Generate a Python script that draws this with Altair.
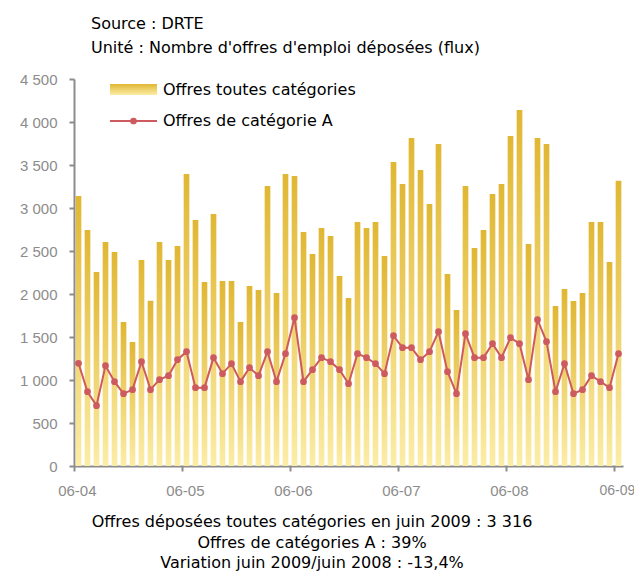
import altair as alt
import pandas as pd

# ---- data ----
mois = []
for y in range(4, 10):
    for m in range(1, 13):
        if (y == 4 and m < 6) or (y == 9 and m > 6):
            continue
        mois.append(f"{m:02d}-{y:02d}")

toutes = [3140, 2744, 2256, 2605, 2488, 1674, 1442, 2395, 1922, 2605,
          2395, 2558, 3395, 2860, 2140, 2930, 2150, 2150, 1674, 2093,
          2047, 3256, 2012, 3395, 3372, 2721, 2465, 2767, 2674, 2209,
          1953, 2837, 2767, 2837, 2442, 3535, 3279, 3814, 3442, 3047,
          3744, 2233, 1814, 3256, 2535, 2744, 3163, 3279, 3837, 4140,
          2581, 3814, 3744, 1860, 2058, 1919, 2012, 2837, 2837, 2372,
          3316]

cat_a = [1194, 864, 702, 1167, 981, 841, 888, 1213, 888, 1004,
         1050, 1236, 1329, 911, 911, 1260, 1074, 1190, 981, 1143,
         1050, 1329, 981, 1306, 1725, 981, 1120, 1260, 1213, 1120,
         957, 1306, 1260, 1190, 1074, 1515, 1376, 1376, 1236, 1329,
         1562, 1097, 841, 1539, 1260, 1260, 1422, 1260, 1492, 1422,
         1004, 1702, 1446, 864, 1190, 841, 888, 1050, 981, 911,
         1306]

tick_labels = ["06-04", "06-05", "06-06", "06-07", "06-08", "06-09"]
y_ticks = [0, 500, 1000, 1500, 2000, 2500, 3000, 3500, 4000, 4500]

header = ["Source : DRTE", "Unité : Nombre d'offres d'emploi déposées (flux)"]
legend_labels = ["Offres toutes catégories", "Offres de catégorie A"]
footer = ["Offres déposées toutes catégories en juin 2009 : 3 316",
          "Offres de catégories A : 39%",
          "Variation juin 2009/juin 2008 : -13,4%"]

df = pd.DataFrame({"mois": mois, "toutes": toutes, "catA": cat_a})

FONT = "Liberation Sans"
TFONT = "DejaVu Sans"
GRAY = "#8c8c8c"
GOLD = "#E0B733"
PALE = "#FCEDA6"
RED = "#CD5A5E"

W, H = 549, 387
step = W / len(mois)
pin = 0.37
pout = pin / 2

xscale = alt.Scale(paddingInner=pin, paddingOuter=pout)
xenc = alt.X("mois:O", sort=None, scale=xscale,
             axis=alt.Axis(values=tick_labels, bandPosition=0,
                           tickOffset=-pout * step, labelAngle=0,
                           title=None, labelFont=FONT,
                           labelFontSize=alt.condition("datum.value === '06-09'",
                                                       alt.value(14), alt.value(15)),
                           labelColor=GRAY, domainColor=GRAY, domainWidth=2,
                           tickColor=GRAY, tickWidth=2, tickSize=5,
                           labelPadding=12))
yenc = alt.Y("toutes:Q", scale=alt.Scale(domain=[0, 4500], nice=False),
             axis=alt.Axis(values=y_ticks, title=None, grid=False,
                           labelExpr="replace(format(datum.value, ','), ',', ' ')",
                           labelFont=FONT, labelFontSize=15, labelColor=GRAY,
                           domainColor=GRAY, domainWidth=2, tickColor=GRAY,
                           tickWidth=2, tickSize=5, labelPadding=12))

grad = alt.Gradient(gradient="linear", x1=0, x2=0, y1=0, y2=1,
                    stops=[alt.GradientStop(color=GOLD, offset=0),
                           alt.GradientStop(color=PALE, offset=1)])

base = alt.Chart(df)
bars = base.mark_bar(color=grad).encode(x=xenc, y=yenc)
line = base.mark_line(color=RED, strokeWidth=2).encode(x=alt.X("mois:O", sort=None), y=alt.Y("catA:Q"))
pts = base.mark_point(color=RED, filled=True, opacity=1, size=45).encode(
    x=alt.X("mois:O", sort=None), y=alt.Y("catA:Q"))

one = pd.DataFrame({"k": [0]})

def txt(s, x, y, align="left", size=16, color="black"):
    return alt.Chart(one).mark_text(text=s, align=align, baseline="middle",
                                    font=TFONT, fontSize=size, color=color).encode(
        x=alt.value(x), y=alt.value(y))

texts = [txt(header[0], 17, -55), txt(header[1], 17, -31),
         txt(legend_labels[0], 89, 11), txt(legend_labels[1], 89, 42)]
footer_y = [443, 464, 484]
for s, fy in zip(footer, footer_y):
    texts.append(txt(s, 238, fy, align="center"))

leg_rect = alt.Chart(one).mark_rect(color=grad).encode(
    x=alt.value(36), x2=alt.value(83), y=alt.value(5), y2=alt.value(16))
leg_rule = alt.Chart(one).mark_rule(color=RED, strokeWidth=2).encode(
    x=alt.value(36), x2=alt.value(83), y=alt.value(42))
leg_pt = alt.Chart(one).mark_point(color=RED, filled=True, opacity=1, size=45).encode(
    x=alt.value(59.5), y=alt.value(42))

chart = alt.layer(bars, line, pts, leg_rect, leg_rule, leg_pt, *texts).properties(
    width=W, height=H,
    autosize=alt.AutoSizeParams(type="none"),
    padding={"left": 66, "top": 71, "right": 11, "bottom": 106},
).configure_view(stroke=None).configure_axis(grid=False)

chart.save("out.html", embed_options={"renderer": "svg", "actions": False})
